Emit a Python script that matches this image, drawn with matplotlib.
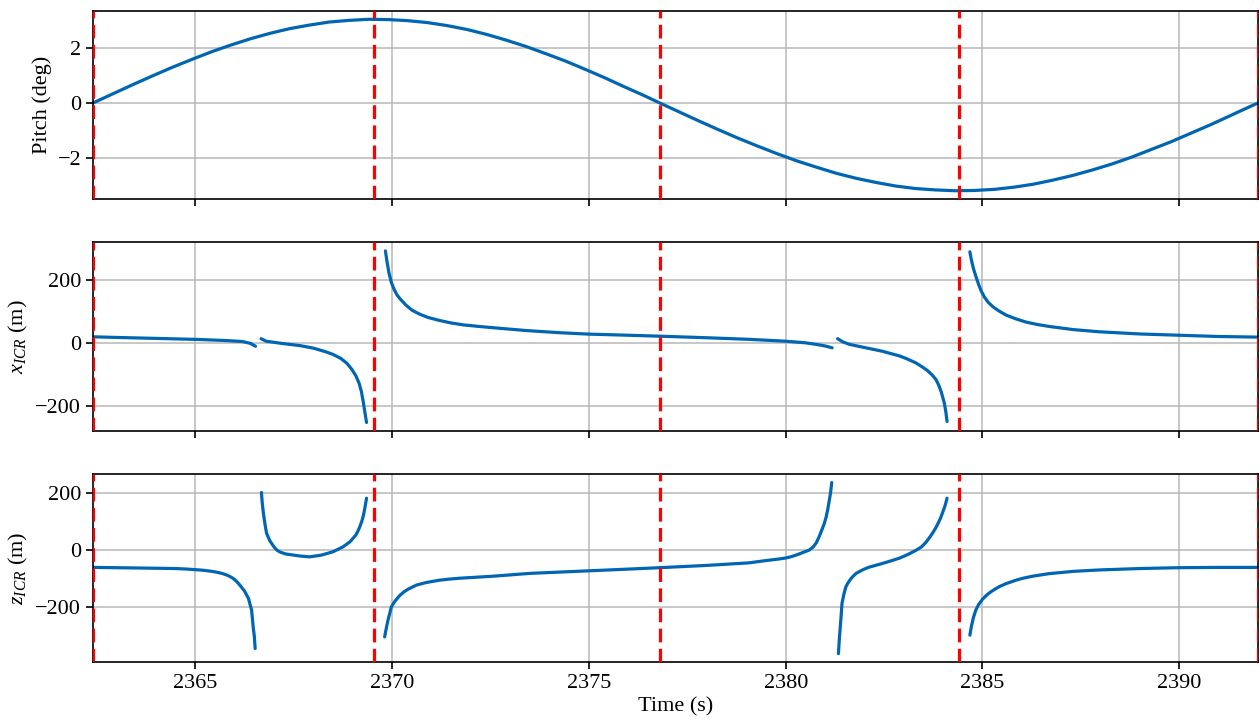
import matplotlib
matplotlib.use("Agg")
import matplotlib.pyplot as plt

plt.rcParams["font.family"] = ["Liberation Serif", "DejaVu Serif"]
plt.rcParams["mathtext.fontset"] = "custom"
plt.rcParams["mathtext.rm"] = "Liberation Serif"
plt.rcParams["mathtext.it"] = "Liberation Serif:italic"
plt.rcParams["font.size"] = 16

# Datos
pitch_t = [2362.4, 2362.9, 2363.4, 2363.9, 2364.4, 2364.9, 2365.4, 2365.9, 2366.4,
           2366.9, 2367.4, 2367.9, 2368.4, 2368.9, 2369.4, 2369.9, 2370.4, 2370.9,
           2371.4, 2371.9, 2372.4, 2372.9, 2373.4, 2373.9, 2374.4, 2374.9, 2375.4,
           2375.9, 2376.4, 2376.8, 2377.3, 2377.8, 2378.3, 2378.8, 2379.3, 2379.8,
           2380.3, 2380.8, 2381.3, 2381.8, 2382.3, 2382.8, 2383.3, 2383.8, 2384.3,
           2384.8, 2385.3, 2385.8, 2386.3, 2386.8, 2387.3, 2387.8, 2388.3, 2388.8,
           2389.3, 2389.8, 2390.3, 2390.8, 2391.3, 2391.8, 2392.0]
pitch_deg = [0.0, 0.33, 0.66, 0.98, 1.29, 1.58, 1.86, 2.11, 2.34,
             2.54, 2.71, 2.84, 2.95, 3.01, 3.05, 3.04, 3.00, 2.93,
             2.82, 2.68, 2.50, 2.29, 2.06, 1.80, 1.53, 1.23, 0.92,
             0.59, 0.27, 0.0, -0.33, -0.66, -0.98, -1.29, -1.58, -1.86,
             -2.12, -2.35, -2.57, -2.75, -2.90, -3.03, -3.12, -3.17, -3.20,
             -3.19, -3.15, -3.07, -2.96, -2.81, -2.64, -2.44, -2.22, -1.97,
             -1.69, -1.41, -1.10, -0.79, -0.46, -0.13, 0.0]

# x_ICR, por tramos (asintotas entre tramos)
xicr_t1 = [2362.4, 2363.0, 2364.0, 2365.1, 2365.8, 2366.2, 2366.4, 2366.53]
xicr_v1 = [19, 17, 14, 10.5, 7, 4, -2, -11]
xicr_t2 = [2366.67, 2366.8, 2367.2, 2367.66, 2368.0, 2368.3, 2368.5, 2368.7, 2368.85,
           2368.98, 2369.08, 2369.16, 2369.22, 2369.27, 2369.31, 2369.35]
xicr_v2 = [13, 5, -2, -9, -17, -28, -37, -50, -65, -85, -105, -128, -155, -190, -222, -253]
xicr_t3 = [2369.83, 2369.87, 2369.92, 2369.98, 2370.05, 2370.12, 2370.2, 2370.35,
           2370.5, 2370.7, 2370.9, 2371.2, 2371.5, 2371.8, 2372.2, 2372.6, 2373.4,
           2374.26, 2375.0, 2376.0, 2376.8, 2378.0, 2379.07, 2380.0, 2380.5, 2380.77,
           2381.0, 2381.18]
xicr_v3 = [292, 258, 222, 192, 170, 153, 140, 120, 104, 91, 81, 71, 63, 57, 52, 47.5,
           39, 32, 27.5, 24, 21, 16, 11, 5, 0, -5, -10, -16]
xicr_t4 = [2381.32, 2381.45, 2381.62, 2382.0, 2382.46, 2382.9, 2383.1, 2383.31,
           2383.45, 2383.6, 2383.72, 2383.82, 2383.89, 2383.95, 2384.03, 2384.07, 2384.1]
xicr_v4 = [13, 3, -5, -15, -27, -42, -52, -64, -75, -88, -102, -117, -135, -155, -191,
           -220, -250]
xicr_t5 = [2384.68, 2384.72, 2384.77, 2384.83, 2384.9, 2384.97, 2385.05, 2385.15,
           2385.27, 2385.42, 2385.6, 2385.85, 2386.1, 2386.4, 2386.69, 2387.3, 2387.96,
           2389.0, 2390.0, 2391.0, 2392.0]
xicr_v5 = [289, 262, 236, 212, 186, 164, 145, 128, 114, 101, 88, 76, 66, 58, 52, 42, 35,
           28, 24, 20, 18]

# z_ICR, por tramos
zicr_t1 = [2362.4, 2363.5, 2364.5, 2364.8, 2365.0, 2365.2, 2365.4, 2365.55, 2365.7,
           2365.82, 2365.92, 2366.02, 2366.13, 2366.25, 2366.35, 2366.43, 2366.47,
           2366.5, 2366.52]
zicr_v1 = [-62, -64, -66, -68, -70, -72, -75.5, -79, -84, -90, -97, -107, -124, -145,
           -171, -212, -271, -305, -347]
zicr_t2 = [2366.68, 2366.7, 2366.73, 2366.77, 2366.81, 2366.86, 2366.9, 2366.95,
           2367.0, 2367.07, 2367.15, 2367.3, 2367.66, 2367.9, 2368.2, 2368.5, 2368.75,
           2368.93, 2369.08, 2369.13, 2369.18, 2369.23, 2369.27, 2369.31, 2369.35]
zicr_v2 = [201, 165, 128, 90, 58, 42, 30, 20, 10, -1, -8, -15, -22, -25, -19, -7, 10,
           28, 52, 65, 81, 100, 120, 148, 181]
zicr_t3 = [2369.81, 2369.86, 2369.9, 2369.95, 2369.98, 2370.05, 2370.1, 2370.2, 2370.3,
           2370.4, 2370.62, 2370.87, 2371.2, 2371.46, 2371.72, 2372.56, 2373.5, 2375.0,
           2376.0, 2376.8, 2378.0, 2379.07, 2379.5, 2379.8, 2380.0, 2380.15, 2380.3,
           2380.45, 2380.6, 2380.7, 2380.78, 2380.85, 2380.92, 2380.98, 2381.03,
           2381.07, 2381.11, 2381.14, 2381.17]
zicr_v3 = [-306, -270, -245, -218, -201, -185, -176, -160, -148, -139, -124, -115,
           -107, -103, -100, -93, -83, -74, -68, -63, -55, -46, -38, -33, -29, -24, -17,
           -9, -1, 10, 25, 46, 70, 92, 116, 143, 175, 200, 236]
zicr_t4 = [2381.34, 2381.36, 2381.38, 2381.41, 2381.43, 2381.48, 2381.53, 2381.58,
           2381.65, 2381.72, 2381.79, 2381.95, 2382.1, 2382.46, 2382.7, 2382.9, 2383.1,
           2383.31, 2383.45, 2383.55, 2383.65, 2383.73, 2383.81, 2383.88, 2383.93,
           2383.98, 2384.05, 2384.1]
zicr_v4 = [-365, -320, -283, -230, -189, -155, -130, -117, -103, -92, -83, -71, -62,
           -48, -38, -29, -17, -2, 10, 24, 42, 58, 76, 95, 110, 128, 155, 181]
zicr_t5 = [2384.68, 2384.72, 2384.77, 2384.83, 2384.9, 2385.0, 2385.1, 2385.2, 2385.3,
           2385.42, 2385.6, 2385.85, 2386.0, 2386.27, 2386.69, 2387.3, 2387.96, 2389.0,
           2390.0, 2391.0, 2392.0]
zicr_v5 = [-300, -268, -238, -212, -193, -174, -160, -149, -140, -130, -119, -107, -101,
           -93, -84, -76, -71, -66, -63, -62, -62]

# instantes de pitch nulo / extremo (lineas rojas)
event_times = [2362.4, 2369.55, 2376.8, 2384.4, 2392.0]

xticks = [2365, 2370, 2375, 2380, 2385, 2390]

azul = "#0066B3"

fig = plt.figure(figsize=(12.6, 7.25), dpi=100)
ax1 = fig.add_axes([0.0738, 0.7251, 0.9246, 0.2601])
ax2 = fig.add_axes([0.0738, 0.4055, 0.9246, 0.2603], sharex=ax1)
ax3 = fig.add_axes([0.0738, 0.0866, 0.9246, 0.2596], sharex=ax1)

ax1.plot(pitch_t, pitch_deg, color=azul, lw=2.3, solid_joinstyle="round")

xsegs = [(xicr_t1, xicr_v1), (xicr_t2, xicr_v2), (xicr_t3, xicr_v3),
         (xicr_t4, xicr_v4), (xicr_t5, xicr_v5)]
zsegs = [(zicr_t1, zicr_v1), (zicr_t2, zicr_v2), (zicr_t3, zicr_v3),
         (zicr_t4, zicr_v4), (zicr_t5, zicr_v5)]
for t, v in xsegs:
    ax2.plot(t, v, color=azul, lw=2.3, solid_joinstyle="round", solid_capstyle="round")
for t, v in zsegs:
    ax3.plot(t, v, color=azul, lw=2.3, solid_joinstyle="round", solid_capstyle="round")

for ax in (ax1, ax2, ax3):
    for te in event_times:
        ax.axvline(te, color="red", lw=2.3, dashes=(4.3, 2.0), zorder=5)
    ax.grid(True, color="#b8b8b8", lw=1.1)
    ax.set_axisbelow(True)
    for s in ax.spines.values():
        s.set_linewidth(1.2)
    ax.tick_params(direction="out", length=5, width=1.2, labelsize=16)

ax1.set_xlim(pitch_t[0], pitch_t[-1])
ax1.set_xticks(xticks)
ax1.set_yticks([-2, 0, 2])
ax2.set_yticks([-200, 0, 200])
ax3.set_yticks([-200, 0, 200])
ax1.tick_params(labelbottom=False)
ax2.tick_params(labelbottom=False)

ax1.set_ylabel("Pitch (deg)", fontsize=16)
ax2.set_ylabel("$x_{ICR}$ (m)", fontsize=16)
ax3.set_ylabel("$z_{ICR}$ (m)", fontsize=16)
ax3.set_xlabel("Time (s)", fontsize=16, labelpad=3)

plt.savefig("out.png", dpi=100)
